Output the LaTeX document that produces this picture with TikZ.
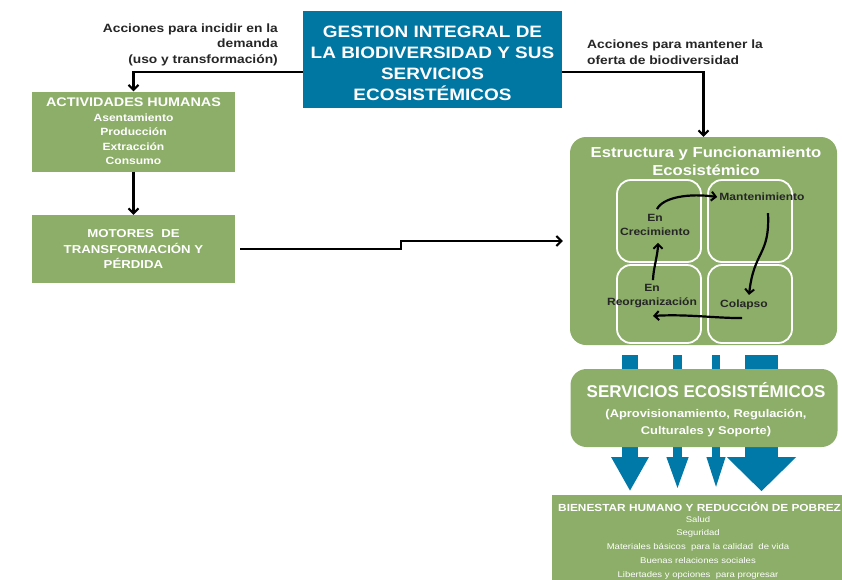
\documentclass[tikz,border=0pt]{standalone}
\usepackage{fontspec}
\setmainfont{Liberation Sans}
\newfontfamily\widefont[FakeStretch=1.15]{Liberation Sans}
\usetikzlibrary{arrows.meta,calc}
\definecolor{gbox}{RGB}{140,174,104}
\definecolor{bbox}{RGB}{0,118,163}
\definecolor{barr}{RGB}{0,120,168}
\begin{document}
\begin{tikzpicture}[x=1pt,y=-1pt,
  gboxs/.style={fill=gbox, inner sep=0pt, text=white, align=center},
  rgbox/.style={gboxs, rounded corners=16pt},
  cell/.style={draw=white, line width=1.8pt, rounded corners=14pt, minimum width=84pt, minimum height=82pt, inner sep=0pt},
  wtxt/.style={text=white, align=center, inner sep=0pt},
  ctxt/.style={text=black!85, align=center, inner sep=0pt, font=\widefont\bfseries\fontsize{10.5}{14}\selectfont},
  lab/.style={text=black!85, inner sep=0pt, font=\widefont\bfseries\fontsize{12}{15.5}\selectfont},
  conn/.style={line width=2.3pt, -{Straight Barb[length=5pt,width=10pt,line width=2pt]}},
  cyc/.style={line width=2.2pt, -{Straight Barb[length=4.5pt,width=9pt,line width=2pt]}},
  barrow/.style={draw=barr}
]
\useasboundingbox (0,0) rectangle (842,579);
\clip (0,0) rectangle (842,579);

% title
\node[fill=bbox, inner sep=0pt, minimum width=259pt, minimum height=97pt] (gest) at (432.5,59.5) {};
\node[wtxt, font=\widefont\bfseries\fontsize{16.5}{21}\selectfont] (gestt) at (432.5,63)
  {GESTION INTEGRAL DE\\LA BIODIVERSIDAD Y SUS\\SERVICIOS\\ECOSISTÉMICOS};

\node[lab, anchor=east, align=right] (labl) at (278,44.5)
  {Acciones para incidir en la\\demanda\\(uso y transformación)};
\node[lab, anchor=west, align=left] (labr) at (587,52)
  {Acciones para mantener la\\oferta de biodiversidad};

% left column
\node[gboxs, minimum width=203pt, minimum height=80pt,
  font=\widefont\bfseries\fontsize{10.5}{14.5}\selectfont] (act) at (133.5,131.5)
  {{\fontsize{12.5}{14.5}\selectfont ACTIVIDADES HUMANAS}\\Asentamiento\\Producción\\Extracción\\Consumo};
\node[gboxs, minimum width=203pt, minimum height=68pt,
  font=\widefont\bfseries\fontsize{11.5}{15.5}\selectfont] (mot) at (133.5,249)
  {MOTORES \ DE\\TRANSFORMACIÓN Y\\PÉRDIDA};

% ecosystem box
\node[rgbox, minimum width=267pt, minimum height=208pt] (estr) at (703.5,241) {};
\node[wtxt, font=\widefont\bfseries\fontsize{14.5}{18}\selectfont] (estrt) at (706,161)
  {Estructura y Funcionamiento\\Ecosistémico};
\node[cell] (c1) at (659,221) {};
\node[cell] (c2) at (750,221) {};
\node[cell, minimum height=78pt] (c3) at (659,304) {};
\node[cell, minimum height=78pt] (c4) at (750,304) {};
\node[ctxt] (crec) at (655,225) {En\\Crecimiento};
\node[ctxt] (mant) at (762,197) {Mantenimiento};
\node[ctxt] (reorg) at (652,296) {En\\Reorganización};
\node[ctxt] (colap) at (744,305) {Colapso};

\draw[cyc] ($(crec.north)+(2,-5)$) .. controls ($(crec.north)+(8,-17)$) and ($(mant.west)+(-30,-4)$) .. ($(mant.west)+(-2,0)$);
\draw[cyc] ($(mant.south)+(6,12)$) .. controls ($(mant.south)+(8,55)$) and ($(colap.north)+(10,-50)$) .. ($(colap.north)+(5,-5)$);
\draw[cyc] ($(colap.south)+(-2,8)$) .. controls ($(colap.south)+(-30,8)$) and ($(reorg.south)+(35,6)$) .. ($(reorg.south)+(1,8)$);
\draw[cyc] ($(reorg.north)+(1,-4)$) .. controls ($(reorg.north)+(1,-14)$) and ($(crec.south)+(3,18)$) .. ($(crec.south)+(3,7)$);

% blue arrows (behind services box)
\draw[barrow, line width=16pt, -{Triangle[length=34pt,width=35pt]}] ($(estr.south)+(-73.5,10)$) -- ($(estr.south)+(-73.5,146)$);
\draw[barrow, line width=9pt, -{Triangle[length=34pt,width=19pt]}] ($(estr.south)+(-26,10)$) -- ($(estr.south)+(-26,146)$);
\draw[barrow, line width=8pt, -{Triangle[length=34pt,width=16pt]}] ($(estr.south)+(12.5,10)$) -- ($(estr.south)+(12.5,146)$);
\draw[barrow, line width=33pt, -{Triangle[length=34pt,width=67pt]}] ($(estr.south)+(58,10)$) -- ($(estr.south)+(58,146)$);

% services
\node[rgbox, minimum width=267pt, minimum height=78pt] (serv) at (704,408) {};
\node[wtxt, font=\bfseries\fontsize{17}{20}\selectfont] (servt) at (706,390) {SERVICIOS ECOSISTÉMICOS};
\node[wtxt, font=\widefont\bfseries\fontsize{11.2}{17}\selectfont] (servs) at (706,423)
  {(Aprovisionamiento, Regulación,\\Culturales y Soporte)};

% wellbeing
\node[gboxs, minimum width=300pt, minimum height=100pt] (bien) at (702,545) {};
\node[wtxt, anchor=west, font=\widefont\bfseries\fontsize{10.3}{14}\selectfont] (bient) at (558,507)
  {BIENESTAR HUMANO Y REDUCCIÓN DE POBREZ};
\node[text=white, align=center, inner sep=0pt, font=\widefont\fontsize{8.3}{13.8}\selectfont] (biens) at (698,547.5)
  {Salud\\Seguridad\\Materiales básicos \ para la calidad \ de vida\\Buenas relaciones sociales\\Libertades y opciones \ para progresar};

% connectors
\draw[conn] ($(gest.west)+(0,12.5)$) -| (act.north);
\draw[conn] ($(gest.east)+(0,12.5)$) -| (estr.north);
\draw[conn] (act.south) -- (mot.north);
\draw[conn, shorten <=5pt, shorten >=7pt] (mot.east) -- ++(166,0) |- (estr.west);
\end{tikzpicture}
\end{document}
